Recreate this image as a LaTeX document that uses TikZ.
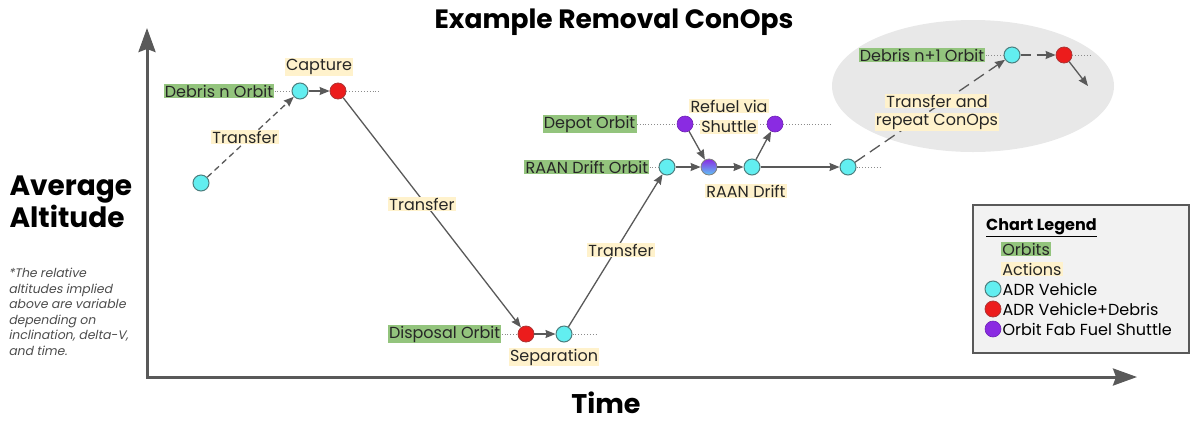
\documentclass[tikz,border=0pt]{standalone}
\usepackage{fontspec}
\setmainfont{Poppins}
\newfontfamily\slantfont[FakeSlant=0.2]{Poppins}
\usetikzlibrary{positioning, arrows.meta, shapes.geometric}
\definecolor{adrcyan}{HTML}{62EEF0}
\definecolor{adrred}{HTML}{EC1C1C}
\definecolor{fabpurple}{HTML}{8A2BE2}
\definecolor{fabblue}{HTML}{5FC4F5}
\definecolor{orbitgreen}{HTML}{93C47D}
\definecolor{actionyellow}{HTML}{FFF2CC}
\definecolor{linegrey}{HTML}{595959}
\tikzstyle{vehicle} = [circle, minimum size=16pt, inner sep=0pt, line width=1pt, draw=black!45!teal!70, fill=adrcyan]
\tikzstyle{debris} = [circle, minimum size=16pt, inner sep=0pt, line width=0.8pt, draw=red!60!black!80, fill=adrred]
\tikzstyle{shuttle} = [circle, minimum size=16pt, inner sep=0pt, line width=0.6pt, draw=fabpurple!80!black, fill=fabpurple]
\tikzstyle{refuelled} = [circle, minimum size=16pt, inner sep=0pt, line width=0.8pt, draw=black!50, top color=fabpurple, bottom color=fabblue]
\tikzstyle{orbit} = [fill=orbitgreen, inner sep=1.2pt, text=black!85, font=\labelsize]
\tikzstyle{action} = [fill=actionyellow, inner sep=1.2pt, text=black!85, font=\labelsize]
\tikzstyle{arrow} = [line width=1.3pt, draw=linegrey, -{Stealth[length=10pt,width=8pt,inset=1pt]}]
\tikzstyle{trail} = [draw=linegrey!70, dotted, line width=0.9pt]
\tikzstyle{axis} = [line width=3pt, draw=linegrey, {Stealth[length=24pt,width=17pt,inset=3pt]}-{Stealth[length=24pt,width=17pt,inset=3pt]}]
\newcommand{\labelsize}{\fontsize{16}{18}\selectfont}

\begin{document}
\begin{tikzpicture}[x=1pt, y=-1pt]
\useasboundingbox (0,0) rectangle (1190,424);

% grey zone for the next debris
\node (repeatzone) [ellipse, fill=black!9, minimum width=282pt, minimum height=132pt] at (973,86) {};

% axes
\coordinate (ytip) at (147,28);
\coordinate (xtip) at (1137,377);
\draw [axis] (ytip) |- (xtip);
\node (title) [font=\fontsize{26.5}{30}\selectfont\bfseries] at (614,22) {Example Removal ConOps};
\node (timelbl) [font=\fontsize{27}{30}\selectfont\bfseries] at (606,403) {Time};
\node (altlbl) [anchor=west, align=left, font=\fontsize{28}{32}\selectfont\bfseries] at (6,202) {Average\\Altitude};
\node (note) [anchor=north west, align=left, text=black!70, font=\slantfont\fontsize{12.4}{15.5}\selectfont] at (5,265) {*The relative\\altitudes implied\\above are variable\\depending on\\inclination, delta-V,\\and time.};

% spacecraft states
\node (launch) [vehicle] at (201,183) {};
\node (debrisarr) [vehicle] at (300,91) {};
\node (capture) [debris] at (338,91) {};
\node (disposal) [debris] at (526,334) {};
\node (release) [vehicle] at (564,334) {};
\node (driftin) [vehicle] at (667,167) {};
\node (refuel) [refuelled] at (709,167) {};
\node (driftmid) [vehicle] at (752,167) {};
\node (driftout) [vehicle] at (848,167) {};
\node (depotin) [shuttle] at (685,124) {};
\node (depotout) [shuttle] at (775,124) {};
\node (nextarr) [vehicle] at (1012,55) {};
\node (nextcap) [debris] at (1064,55) {};
\coordinate (nextgo) at (1088,86);

% orbit trails
\coordinate (captureend) at (380,91);
\coordinate (releaseend) at (598,334);
\coordinate (depotend) at (830,124);
\coordinate (driftend) at (880,167);
\coordinate (nextend) at (1092,55);
\draw [trail] (capture) -- (captureend);
\draw [trail] (release) -- (releaseend);
\draw [trail] (depotin) -- (depotout);
\draw [trail] (depotout) -- (depotend);
\draw [trail] (driftout) -- (driftend);
\draw [trail] (nextcap) -- (nextend);

\draw [arrow, dash pattern=on 6pt off 4pt] (launch) -- (debrisarr);
\draw [arrow] (debrisarr) -- (capture);
\draw [arrow] (capture) -- (disposal);
\draw [arrow] (disposal) -- (release);
\draw [arrow] (release) -- (driftin);
\draw [arrow] (driftin) -- (refuel);
\draw [arrow] (depotin) -- (refuel);
\draw [arrow] (refuel) -- (driftmid);
\draw [arrow] (driftmid) -- (depotout);
\draw [arrow] (driftmid) -- (driftout);
\draw [arrow, dash pattern=on 12pt off 6pt] (driftout) -- (nextarr);
\draw [arrow, dash pattern=on 10pt off 6pt] (nextarr) -- (nextcap);
\draw [arrow] (nextcap) -- (nextgo);

% labels
\node (debrisorbit) [orbit, left=17pt of debrisarr] {Debris n Orbit};
\node (disposalorbit) [orbit, left=16pt of disposal] {Disposal Orbit};
\node (driftorbit) [orbit, left=9pt of driftin] {RAAN Drift Orbit};
\node (depotorbit) [orbit, left=40pt of depotin] {Depot Orbit};
\node (nextorbit) [orbit, left=18pt of nextarr] {Debris n+1 Orbit};
\draw [trail] (debrisorbit) -- (debrisarr);
\draw [trail] (disposalorbit) -- (disposal);
\draw [trail] (driftorbit) -- (driftin);
\draw [trail] (depotorbit) -- (depotin);
\draw [trail] (nextorbit) -- (nextarr);

\node (capturelbl) [action] at (319,67) {Capture};
\node (transfer1) [action] at (245,137) {Transfer};
\node (transfer2) [action] at (422,204) {Transfer};
\node (transfer3) [action] at (621,250) {Transfer};
\node (separation) [action] at (554,357) {Separation};
\node (refuelA) [action] at (729,106) {Refuel via};
\node (refuelB) [action] at (729,127) {Shuttle};
\node (drift) [action] at (746,191) {RAAN Drift};
\node (repeatA) [action] at (937,101) {Transfer and};
\node (repeatB) [action] at (937,122) {repeat ConOps};

% legend
\node (legend) [draw=linegrey, fill=black!5, line width=1.5pt, minimum width=216pt, minimum height=148pt] at (1081,279) {};
\node (legendtitle) [anchor=west, font=\labelsize, inner sep=0pt] at (986,228) {\bfseries\underline{Chart Legend}};
\node (legorbit) [orbit, anchor=west] at (1001,249) {Orbits};
\node (legaction) [action, anchor=west] at (1001,269) {Actions};
\node (legvehicle) [vehicle] at (993,289) {};
\node (legdebris) [debris] at (993,309) {};
\node (legshuttle) [shuttle] at (993,329) {};
\node [right=1pt of legvehicle, font=\labelsize, inner sep=0pt] {ADR Vehicle};
\node [right=1pt of legdebris, font=\labelsize, inner sep=0pt] {ADR Vehicle+Debris};
\node [right=1pt of legshuttle, font=\labelsize, inner sep=0pt] {Orbit Fab Fuel Shuttle};
\end{tikzpicture}
\end{document}
